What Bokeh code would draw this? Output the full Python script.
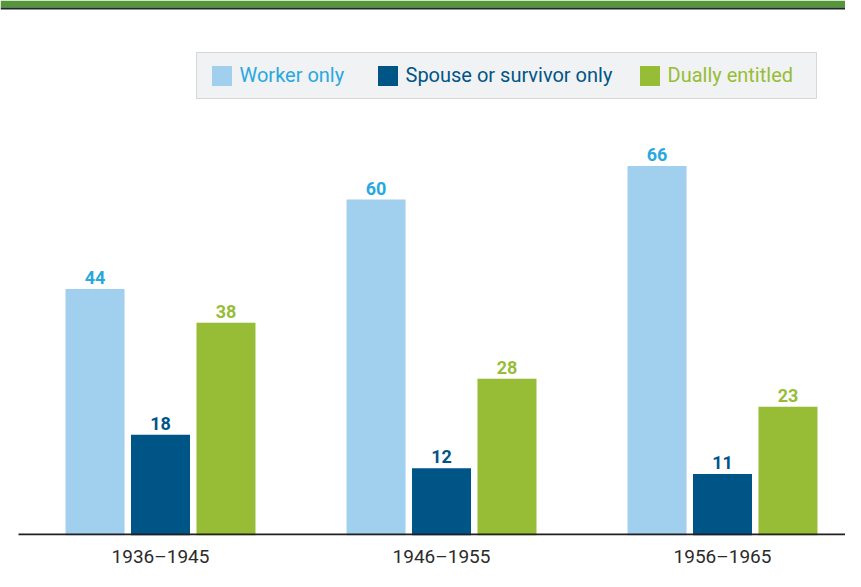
from bokeh.plotting import figure
from bokeh.models import Range1d, ColumnDataSource, Legend, LegendItem, BoxAnnotation, FixedTicker
from bokeh.transform import dodge
from bokeh.core.properties import value
from bokeh.embed import file_html
from bokeh.resources import INLINE

groups = ["1936–1945", "1946–1955", "1956–1965"]
series = ["Worker only", "Spouse or survivor only", "Dually entitled"]
worker = [44, 60, 66]
spouse = [18, 12, 11]
dual = [38, 28, 23]

bar_colors = ["#a1cfee", "#005587", "#97bd36"]
text_colors = ["#29a8e0", "#005587", "#97bd36"]
offsets = [-0.233, 0.0, 0.233]

src = ColumnDataSource(dict(
    x=list(range(len(groups))),
    worker=worker, spouse=spouse, dual=dual,
    worker_t=[str(v) for v in worker],
    spouse_t=[str(v) for v in spouse],
    dual_t=[str(v) for v in dual],
))

p = figure(width=845, height=571, output_backend="svg", toolbar_location=None,
           x_range=Range1d(-0.5694, 2.4377), y_range=Range1d(0, 95.54),
           y_axis_location=None, min_border_left=0, min_border_right=0,
           min_border_top=0, min_border_bottom=36)
p.outline_line_color = None
p.xgrid.grid_line_color = None
p.ygrid.grid_line_color = None
p.background_fill_color = "white"
p.border_fill_color = "white"

renderers = []
for col, c, tc, off in zip(["worker", "spouse", "dual"], bar_colors, text_colors, offsets):
    r = p.vbar(x=dodge("x", off, range=p.x_range), top=col, width=0.21, bottom=0,
               source=src, fill_color=c, line_color=None)
    renderers.append(r)
    p.text(x=dodge("x", off, range=p.x_range), y=col, text=col + "_t", source=src,
           text_align="center", text_baseline="bottom", y_offset=-5,
           text_font=value("Roboto"), text_font_size="18px", text_font_style="bold",
           text_color=tc)

p.xaxis.ticker = FixedTicker(ticks=list(range(len(groups))))
p.xaxis.major_label_overrides = {i: g for i, g in enumerate(groups)}
p.xaxis.axis_line_color = None
p.xaxis.major_tick_line_color = None
p.xaxis.major_tick_out = 0
p.xaxis.major_tick_in = 0
p.xaxis.minor_tick_line_color = None
p.xaxis.minor_tick_out = 0
p.xaxis.major_label_standoff = 9
p.xaxis.major_label_text_font = "Roboto"
p.xaxis.major_label_text_font_size = "19px"
p.xaxis.major_label_text_color = "#2b2b2b"

# baseline rule (starts a little right of the left edge, as in the original)
p.add_layout(BoxAnnotation(left=18, bottom=0, top=2,
                           left_units="screen", bottom_units="screen", top_units="screen",
                           fill_color="#231f20", fill_alpha=1, line_color=None))

# top band
p.add_layout(BoxAnnotation(top=0, bottom=7, top_units="canvas", bottom_units="canvas",
                           fill_color="#55963a", fill_alpha=1, line_color=None))
p.add_layout(BoxAnnotation(top=7, bottom=9, top_units="canvas", bottom_units="canvas",
                           fill_color="#1f2a24", fill_alpha=1, line_color=None))

# legend box
p.add_layout(BoxAnnotation(left=196, right=816, bottom=437, top=483,
                           left_units="screen", right_units="screen",
                           top_units="screen", bottom_units="screen",
                           fill_color="#f1f2f4", fill_alpha=1,
                           line_color="#8a8a8a", line_width=1))

leg_x = [208.5, 374.5, 636.5]
for name, r, tc, lx in zip(series, renderers, text_colors, leg_x):
    lg = Legend(items=[LegendItem(label=name, renderers=[r])], location=(lx, 447.5),
                orientation="horizontal", padding=0, margin=0, spacing=0,
                border_line_color=None, background_fill_alpha=0,
                glyph_width=25, glyph_height=25, label_height=25,
                label_standoff=6, label_text_font="Roboto",
                label_text_font_size="20px", label_text_color=tc,
                label_text_baseline="middle")
    p.add_layout(lg, "center")

open("out.html", "w").write(file_html(p, INLINE))
